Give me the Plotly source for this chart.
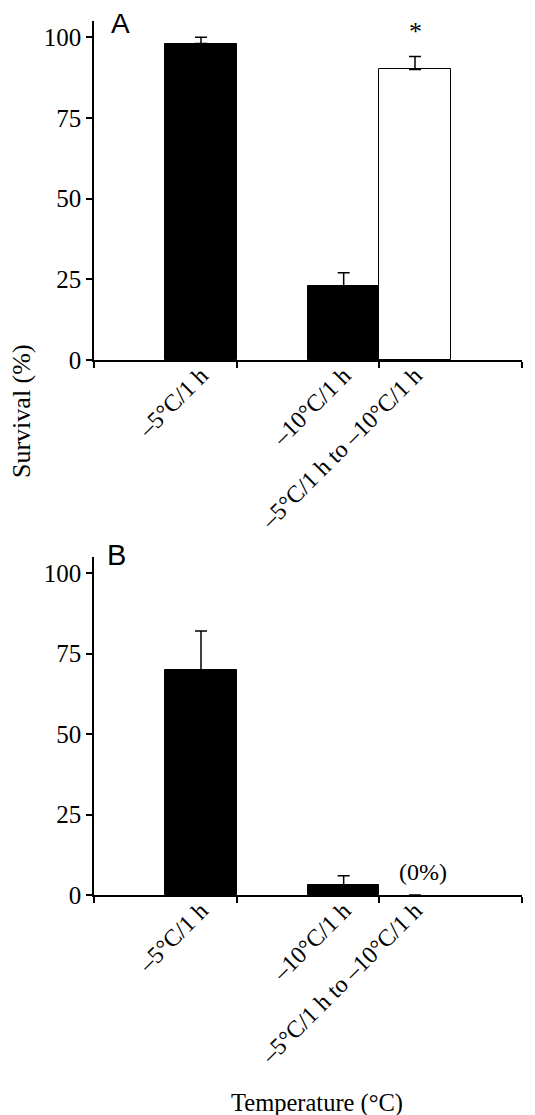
import plotly.graph_objects as go

# ---- data ----
categories = ["–5°C/1 h", "–10°C/1 h", "–5°C/1 h to –10°C/1 h"]
survival_a = [98, 23, 90]
error_a = [2, 4, 4]
survival_b = [70, 3, 0]
error_b = [12, 3, 0]
y_ticks = [0, 25, 50, 75, 100]

# ---- layout helpers (positions / styles) ----
bar_pos = [0.75, 1.75, 2.25]
bar_colors = ["black", "black", "white"]
boundaries = [0, 1, 2, 3]
W, H = 535, 1115
OFF = 8  # page body margin
SERIF = "Liberation Serif, Times New Roman, serif"
SANS = "Liberation Sans, Arial, sans-serif"


def px_x(p):
    return (p - OFF) / W


def px_y(p):
    return 1 - (p - OFF) / H


fig = go.Figure()
for vals, errs, xa, ya in [(survival_a, error_a, "x", "y"), (survival_b, error_b, "x2", "y2")]:
    fig.add_trace(go.Bar(
        x=bar_pos, y=vals, width=0.5,
        marker=dict(color=bar_colors,
                    line=dict(color="black", width=[1 if v > 0 else 0 for v in vals])),
        error_y=dict(type="data", array=errs, arrayminus=[0] * len(errs), symmetric=False,
                     color="black", thickness=1.5, width=6),
        xaxis=xa, yaxis=ya, showlegend=False,
    ))

xdom = [px_x(94), px_x(522)]
common_x = dict(
    domain=xdom, range=[0, 3], tickmode="array", tickvals=bar_pos, ticktext=categories,
    tickangle=-45, ticks="", showline=True, linecolor="black", linewidth=2,
    showgrid=False, zeroline=False, fixedrange=True, automargin=False,
    ticklabelstandoff=-10,
    tickfont=dict(family=SERIF, size=24, color="black"),
    minor=dict(tickmode="array", tickvals=boundaries, ticks="outside", ticklen=6,
               tickcolor="black", tickwidth=1.5, showgrid=False),
)
common_y = dict(
    range=[0, 105], tickmode="array", tickvals=y_ticks, ticks="outside", ticklen=6,
    tickcolor="black", tickwidth=1.5, showline=True, linecolor="black", linewidth=1.5,
    showgrid=False, zeroline=False, fixedrange=True, automargin=False,
    tickfont=dict(family=SERIF, size=25, color="black"),
)

fig.update_layout(
    width=W, height=H,
    margin=dict(l=0, r=0, t=0, b=0, autoexpand=False),
    paper_bgcolor="white", plot_bgcolor="white",
    bargap=0,
    xaxis=dict(common_x, anchor="y"),
    xaxis2=dict(common_x, anchor="y2"),
    yaxis=dict(common_y, domain=[px_y(360), px_y(21)], anchor="x"),
    yaxis2=dict(common_y, domain=[px_y(895), px_y(557)], anchor="x2"),
    annotations=[
        dict(text="A", x=px_x(120), y=px_y(23), xref="paper", yref="paper",
             xanchor="center", yanchor="middle",
             showarrow=False, font=dict(family=SANS, size=28, color="black")),
        dict(text="B", x=px_x(116), y=px_y(555), xref="paper", yref="paper",
             xanchor="center", yanchor="middle",
             showarrow=False, font=dict(family=SANS, size=29, color="black")),
        dict(text="*", x=bar_pos[2], y=100, xref="x", yref="y", yanchor="bottom",
             yshift=-11,
             showarrow=False, font=dict(family=SERIF, size=26, color="black")),
        dict(text="(0%)", x=bar_pos[2], y=7, xref="x2", yref="y2",
             xanchor="center", yanchor="middle", xshift=8,
             showarrow=False, font=dict(family=SERIF, size=24, color="black")),
        dict(text="Survival (%)", x=px_x(21), y=px_y(411), xref="paper", yref="paper",
             xanchor="center", yanchor="middle",
             textangle=-90, showarrow=False, font=dict(family=SERIF, size=26, color="black")),
        dict(text="Temperature (°C)", x=px_x(317), y=px_y(1103), xref="paper", yref="paper",
             xanchor="center", yanchor="middle",
             showarrow=False, font=dict(family=SERIF, size=24.5, color="black")),
    ],
)

fig.write_html("out.html")
